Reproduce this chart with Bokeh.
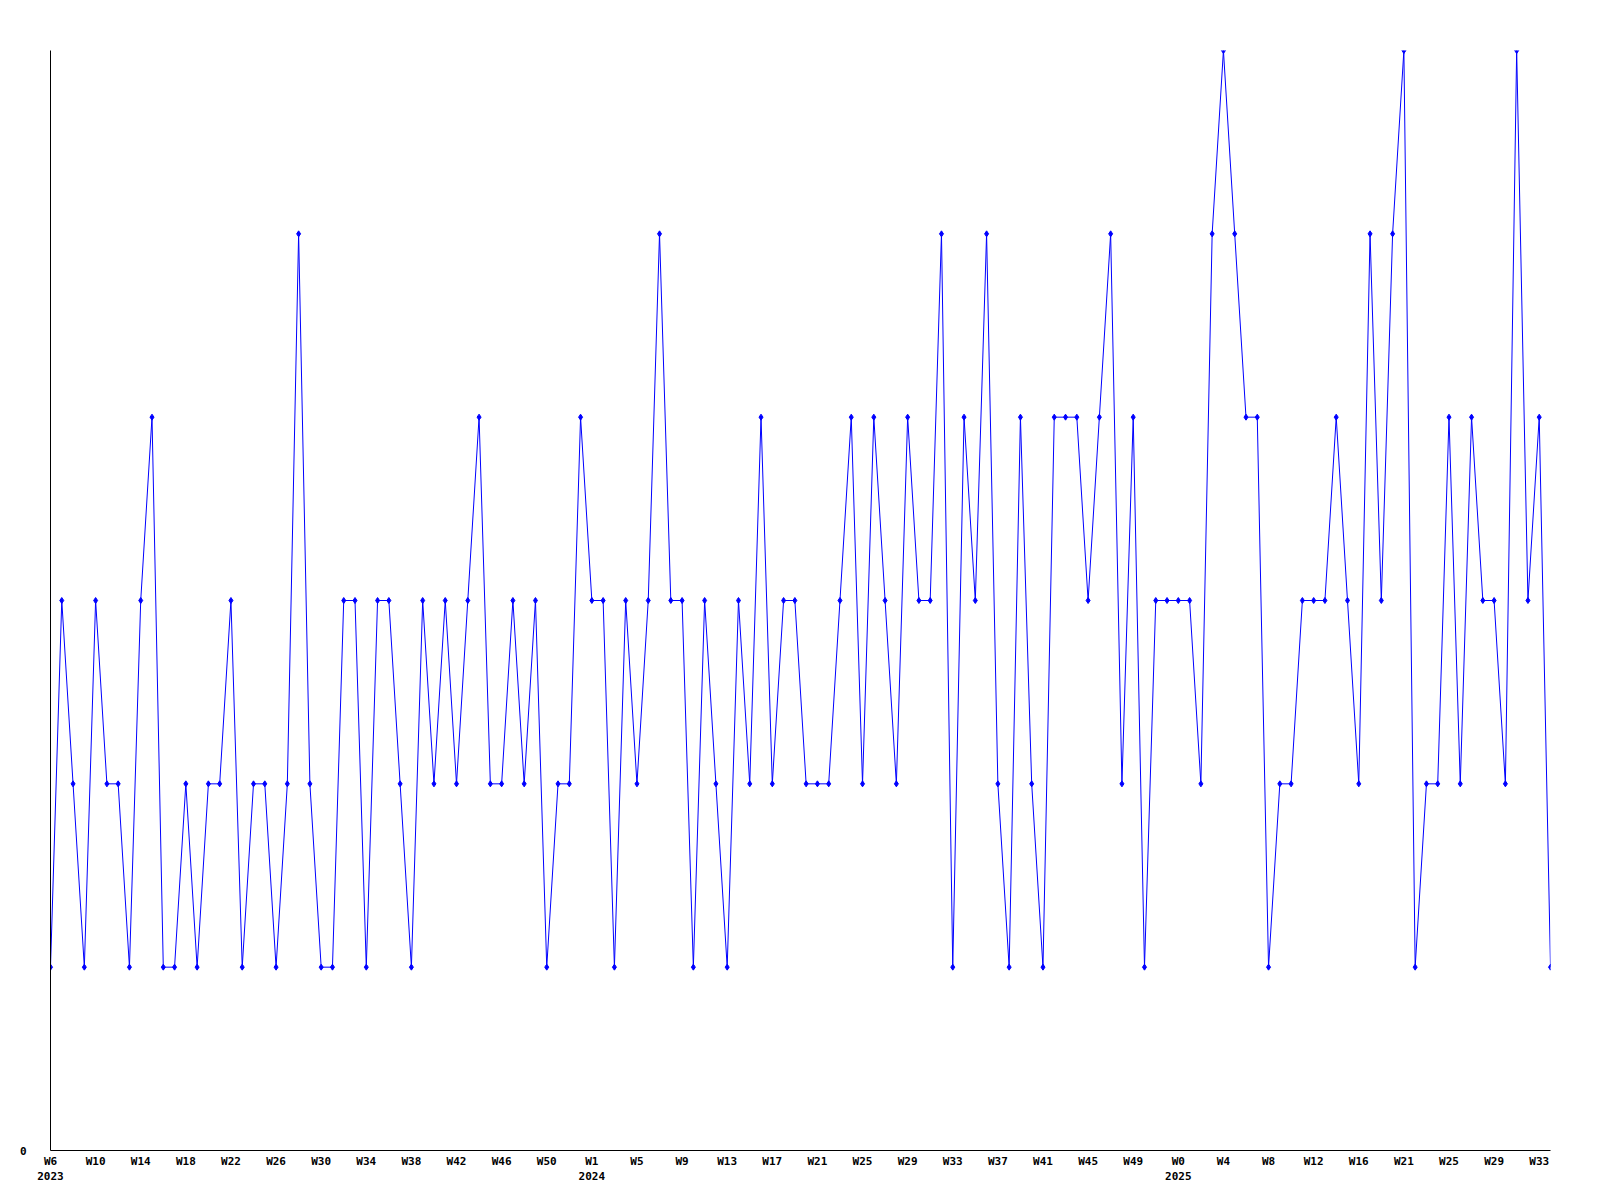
from bokeh.plotting import figure
from bokeh.models import FixedTicker, LinearAxis, Range1d, ColumnDataSource
from bokeh.embed import file_html
from bokeh.resources import INLINE

# Weekly values, first point = W6 2023, last point = W33 2025
values = [
    1, 3, 2, 1, 3, 2, 2, 1, 3, 4,
    1, 1, 2, 1, 2, 2, 3, 1, 2, 2,
    1, 2, 5, 2, 1, 1, 3, 3, 1, 3,
    3, 2, 1, 3, 2, 3, 2, 3, 4, 2,
    2, 3, 2, 3, 1, 2, 2, 4, 3, 3,
    1, 3, 2, 3, 5, 3, 3, 1, 3, 2,
    1, 3, 2, 4, 2, 3, 3, 2, 2, 2,
    3, 4, 2, 4, 3, 2, 4, 3, 3, 5,
    1, 4, 3, 5, 2, 1, 4, 2, 1, 4,
    4, 4, 3, 4, 5, 2, 4, 1, 3, 3,
    3, 3, 2, 5, 6, 5, 4, 4, 1, 2,
    2, 3, 3, 3, 4, 3, 2, 5, 3, 5,
    6, 1, 2, 2, 4, 2, 4, 3, 3, 2,
    6, 3, 4, 1,
]

# Week tick labels, one every 4 points
week_labels = [
    "W6", "W10", "W14", "W18", "W22", "W26", "W30", "W34", "W38", "W42", "W46", "W50",
    "W1", "W5", "W9", "W13", "W17", "W21", "W25", "W29", "W33", "W37", "W41", "W45", "W49",
    "W0", "W4", "W8", "W12", "W16", "W21", "W25", "W29", "W33",
]
week_step = 4

# Year labels: the week label at which each year begins
year_labels = ["2023", "2024", "2025"]
year_at_week_label = ["W6", "W1", "W0"]

x = list(range(len(values)))
src = ColumnDataSource(data=dict(x=x, y=values))

p = figure(
    frame_width=1500, frame_height=1100,
    min_border_left=50, min_border_top=50, min_border_right=30, min_border_bottom=20,
    x_range=Range1d(0, len(values) - 1), y_range=Range1d(0, 6),
    output_backend="svg", toolbar_location=None,
)
p.outline_line_color = None
p.xgrid.visible = False
p.ygrid.visible = False
p.background_fill_color = "white"
p.border_fill_color = "white"

p.line("x", "y", source=src, line_color="#0000ff", line_width=1)
p.scatter("x", "y", source=src, marker="diamond", size=6, fill_color="#0000ff", line_color="#0000ff")

FONT = "DejaVu Sans Mono"

# x axis with week labels
week_ticks = [i * week_step for i in range(len(week_labels))]
xa = p.xaxis[0]
xa.ticker = FixedTicker(ticks=week_ticks)
xa.major_label_overrides = {t: l for t, l in zip(week_ticks, week_labels)}
xa.axis_line_color = "black"
xa.axis_line_width = 1
xa.major_tick_line_color = None
xa.minor_tick_line_color = None
xa.major_tick_out = 0
xa.major_tick_in = 0
xa.major_label_standoff = 4
xa.major_label_text_font = FONT
xa.major_label_text_font_style = "bold"
xa.major_label_text_font_size = "11px"
xa.major_label_text_color = "black"

# second row: years
year_ticks = []
idx_seen = 0
for yl in year_at_week_label:
    for k in range(idx_seen, len(week_labels)):
        if week_labels[k] == yl:
            year_ticks.append(week_ticks[k])
            idx_seen = k + 1
            break
ya2 = LinearAxis(ticker=FixedTicker(ticks=year_ticks))
ya2.major_label_overrides = {t: l for t, l in zip(year_ticks, year_labels)}
ya2.axis_line_color = None
ya2.major_tick_line_color = None
ya2.minor_tick_line_color = None
ya2.major_tick_out = 0
ya2.major_tick_in = 0
ya2.major_label_standoff = 1
ya2.major_label_text_font = FONT
ya2.major_label_text_font_style = "bold"
ya2.major_label_text_font_size = "11px"
ya2.major_label_text_color = "black"
p.add_layout(ya2, "below")

# y axis: only 0
yax = p.yaxis[0]
yax.ticker = FixedTicker(ticks=[0])
yax.axis_line_color = "black"
yax.axis_line_width = 1
yax.major_tick_line_color = None
yax.minor_tick_line_color = None
yax.major_tick_out = 0
yax.major_tick_in = 0
yax.major_label_standoff = 24
yax.major_label_text_font = FONT
yax.major_label_text_font_style = "bold"
yax.major_label_text_font_size = "11px"
yax.major_label_text_color = "black"

open("out.html", "w").write(file_html(p, INLINE))
